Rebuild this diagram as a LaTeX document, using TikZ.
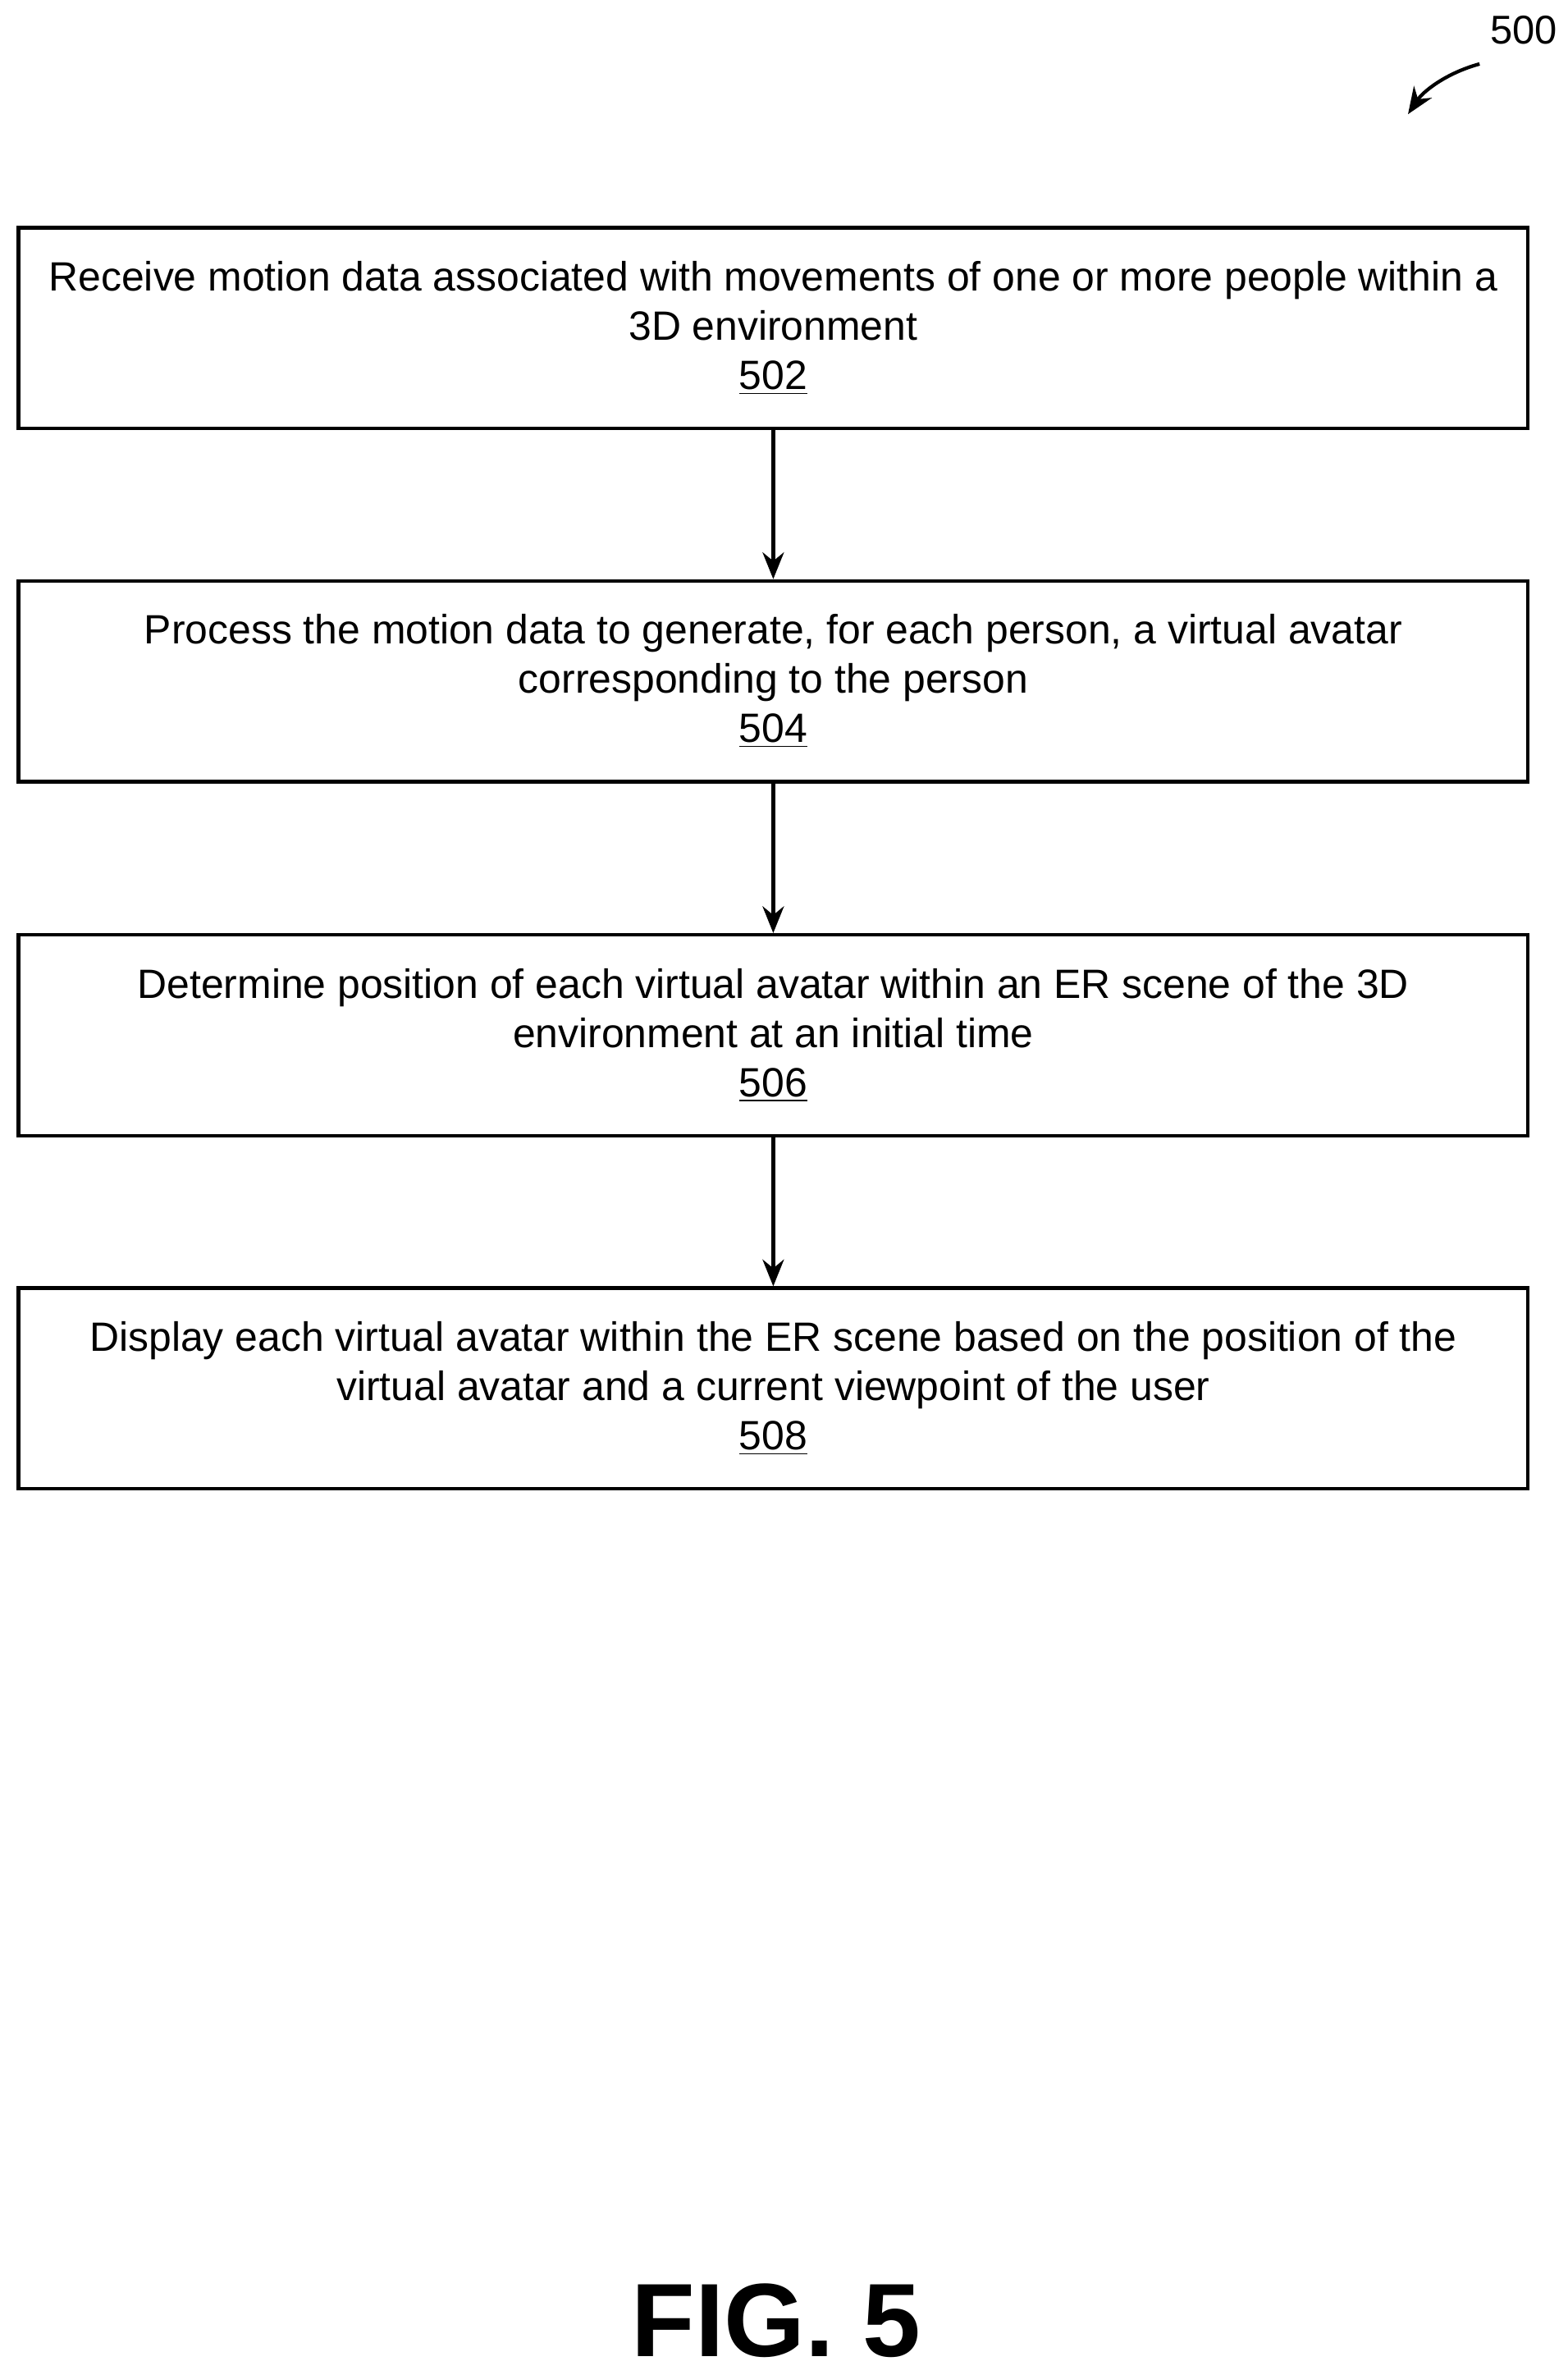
\documentclass[tikz,border=0pt]{standalone}
\usepackage{fontspec}
\setmainfont{Liberation Sans}
\usetikzlibrary{arrows.meta}
\usetikzlibrary{positioning}

\begin{document}
\begin{tikzpicture}[x=0.02cm,y=-0.02cm,
    stepbox/.style={draw=black,line width=1.3pt,minimum width=19.84cm,minimum height=2.64cm,
      align=center,font=\fontsize{15.3}{18.4}\selectfont,inner sep=0pt},
    flow/.style={-{Stealth[length=10pt,width=8pt]},line width=1.3pt}]

\useasboundingbox (0,0) rectangle (1030,1560);

\node[stepbox] (s502) at (508,215.5) {Receive motion data associated with movements of one or more people within a\\ 3D environment\\ \underline{502}};
\node[stepbox] (s504) at (508,447.5) {Process the motion data to generate, for each person, a virtual avatar\\ corresponding to the person\\ \underline{504}};
\node[stepbox] (s506) at (508,680) {Determine position of each virtual avatar within an ER scene of the 3D\\ environment at an initial time\\ \underline{506}};
\node[stepbox] (s508) at (508,912) {Display each virtual avatar within the ER scene based on the position of the\\ virtual avatar and a current viewpoint of the user\\ \underline{508}};

\draw[flow] (s502) -- (s504);
\draw[flow] (s504) -- (s506);
\draw[flow] (s506) -- (s508);

% figure number and label
\node[font=\fontsize{15}{17}\selectfont] (lbl) at (1001,20) {500};
\coordinate (lblend) at (925,75);
\draw[flow] (972,42) .. controls (950,48) and (935,60) .. (lblend);

\node[font=\bfseries\fontsize{39}{42}\selectfont] (fig) at (510,1524) {FIG. 5};
\end{tikzpicture}
\end{document}
